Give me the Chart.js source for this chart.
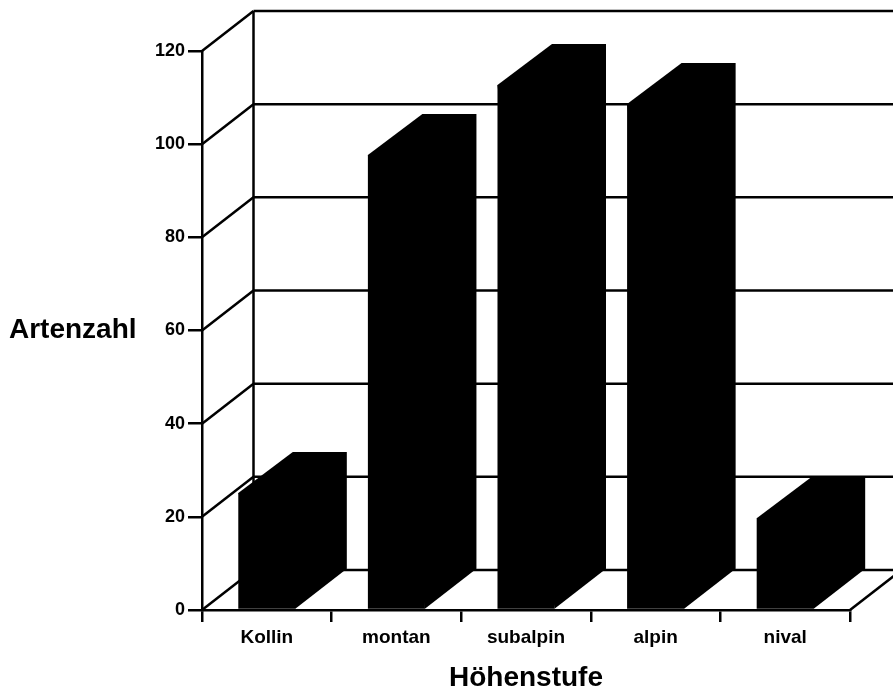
<!DOCTYPE html>
<html>
<head>
<meta charset="utf-8">
<style>
html, body { margin: 0; padding: 0; background: #fff; }
#wrap { width: 893px; height: 689px; }
</style>
</head>
<body>
<div id="wrap"><canvas id="chart" width="893" height="689"></canvas></div>
<script src="https://cdn.jsdelivr.net/npm/chart.js@4"></script>
<script>
const categories = ['Kollin', 'montan', 'subalpin', 'alpin', 'nival'];
const artenzahl = [25.1, 97.7, 112.7, 108.6, 19.7];
const yTicks = [0, 20, 40, 60, 80, 100, 120];
const xTitle = 'Höhenstufe';
const yTitle = 'Artenzahl';

const FONT = '"Liberation Sans", Arial, sans-serif';
const DEPTH_X = 51.5;
const DEPTH_Y = 40;
const LINE_W = 2.5;

function line(ctx, x1, y1, x2, y2) {
    ctx.beginPath();
    ctx.moveTo(x1, y1);
    ctx.lineTo(x2, y2);
    ctx.stroke();
}

// back wall, floor and the side faces of the bars
const depthPlugin = {
    id: 'depth',
    beforeDatasetsDraw(chart) {
        const ctx = chart.ctx;
        const y = chart.scales.y;
        const x = chart.scales.x;
        const left = x.left, right = x.right;
        const bottom = y.getPixelForValue(0);
        const top = y.getPixelForValue(120);

        ctx.save();
        ctx.strokeStyle = '#000';
        ctx.lineWidth = LINE_W;
        yTicks.forEach(v => {
            const py = y.getPixelForValue(v);
            line(ctx, left, py, left + DEPTH_X, py - DEPTH_Y);
            line(ctx, left + DEPTH_X, py - DEPTH_Y, chart.width, py - DEPTH_Y);
        });
        line(ctx, left + DEPTH_X, top - DEPTH_Y, left + DEPTH_X, bottom - DEPTH_Y);
        line(ctx, right, bottom, right + DEPTH_X, bottom - DEPTH_Y);

        ctx.fillStyle = '#000';
        chart.getDatasetMeta(0).data.forEach(bar => {
            const l = bar.x - bar.width / 2;
            const r = bar.x + bar.width / 2;
            ctx.beginPath();
            ctx.moveTo(l, bar.y);
            ctx.lineTo(l + DEPTH_X + 3, bar.y - DEPTH_Y - 1);
            ctx.lineTo(r + DEPTH_X, bar.y - DEPTH_Y - 1);
            ctx.lineTo(r + DEPTH_X, bar.base - DEPTH_Y);
            ctx.lineTo(r, bar.base);
            ctx.closePath();
            ctx.fill();
        });
        ctx.restore();
    },
    afterDraw(chart) {
        const ctx = chart.ctx;
        ctx.save();
        ctx.fillStyle = '#000';
        ctx.font = 'bold 28px ' + FONT;
        ctx.textBaseline = 'middle';
        ctx.fillText(yTitle, 9, chart.scales.y.getPixelForValue(60));
        ctx.restore();
    }
};

new Chart(document.getElementById('chart').getContext('2d'), {
    type: 'bar',
    data: {
        labels: categories,
        datasets: [{
            data: artenzahl,
            backgroundColor: '#000',
            categoryPercentage: 1,
            barPercentage: 0.44
        }]
    },
    options: {
        responsive: false,
        animation: false,
        layout: { padding: { top: 51, right: 43 } },
        plugins: { legend: { display: false }, tooltip: { enabled: false } },
        scales: {
            x: {
                afterFit: s => { s.height = 79; },
                border: { color: '#000', width: LINE_W },
                grid: { drawOnChartArea: false, color: '#000', lineWidth: LINE_W, tickLength: 12 },
                ticks: { color: '#000', font: { family: FONT, size: 19, weight: 'bold' }, padding: 4, maxRotation: 0 },
                title: { display: true, text: xTitle, color: '#000', font: { family: FONT, size: 28, weight: 'bold', lineHeight: 1 }, padding: { top: 0, bottom: -3 } }
            },
            y: {
                min: 0,
                max: 120,
                afterFit: s => { s.width = 202; },
                afterBuildTicks: s => { s.ticks = yTicks.map(v => ({ value: v })); },
                border: { color: '#000', width: LINE_W },
                grid: { drawOnChartArea: false, color: '#000', lineWidth: LINE_W, tickLength: 14 },
                ticks: { color: '#000', font: { family: FONT, size: 18, weight: 'bold' }, padding: 3 }
            }
        }
    },
    plugins: [depthPlugin]
});
</script>
</body>
</html>
